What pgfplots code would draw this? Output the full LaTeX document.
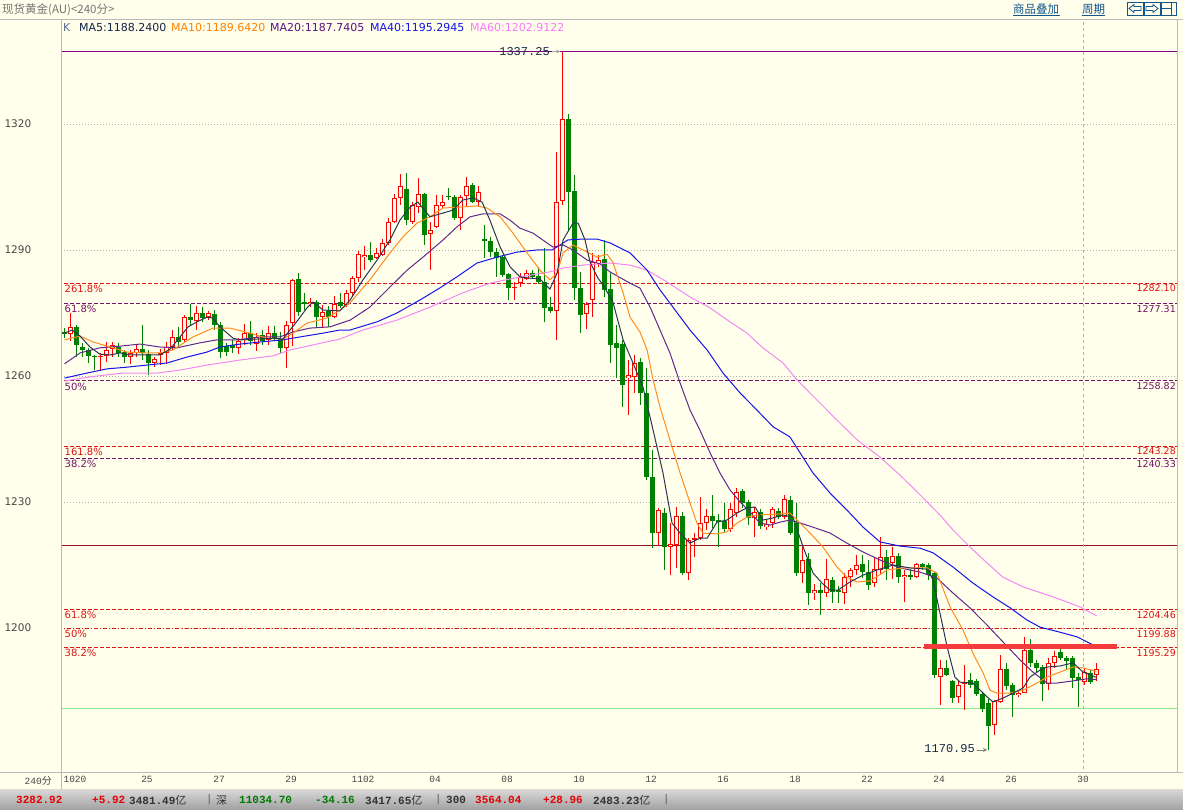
\documentclass[border=0pt]{standalone}
\usepackage{fontspec}
\setmainfont{DejaVu Sans}
\newfontfamily\cjk{Noto Sans CJK SC}
\newfontfamily\mono{Liberation Mono}
\usepackage{pgfplots}
\usepackage{pgfplotstable}
\pgfplotsset{compat=1.18}
\usetikzlibrary{arrows.meta}
\definecolor{bg}{RGB}{255,255,236}
\definecolor{cred}{RGB}{255,0,0}
\definecolor{cgreen}{RGB}{0,128,0}
\definecolor{ma5}{RGB}{40,55,85}
\definecolor{ma10}{RGB}{255,140,30}
\definecolor{ma20}{RGB}{96,40,140}
\definecolor{ma40}{RGB}{20,20,235}
\definecolor{ma60}{RGB}{245,135,245}
\definecolor{fibred}{RGB}{220,20,20}
\definecolor{fibpur}{RGB}{115,20,100}
\definecolor{toppur}{RGB}{128,0,128}
\definecolor{solidred}{RGB}{150,20,40}
\definecolor{lgreen}{RGB}{140,230,140}
\definecolor{gridc}{RGB}{175,175,175}
\definecolor{framec}{RGB}{185,185,185}
\definecolor{tickc}{RGB}{70,70,70}
\definecolor{linkc}{RGB}{20,85,140}
\definecolor{navy}{RGB}{20,40,70}
\definecolor{thickred}{RGB}{245,60,60}
\definecolor{sred}{RGB}{230,0,0}
\definecolor{sgreen}{RGB}{0,120,0}
\definecolor{sdark}{RGB}{50,50,50}

\pgfplotstableread{
x o h l c
1 1270.0 1275.0 1268.3 1271.7
6 1264.5 1265.5 1261.2 1264.8
7 1264.8 1268.1 1263.3 1266.2
8 1266.4 1268.1 1264.5 1267.4
11 1264.5 1266.2 1262.9 1265.5
12 1265.5 1267.4 1264.5 1266.4
15 1263.1 1264.5 1262.1 1264.0
16 1265.2 1266.4 1262.6 1265.5
17 1265.5 1268.1 1262.9 1266.9
18 1266.9 1271.0 1266.2 1269.3
20 1268.6 1274.5 1268.1 1274.0
22 1273.1 1276.7 1271.0 1275.0
24 1274.0 1275.5 1273.3 1275.0
29 1266.7 1269.0 1265.2 1268.3
30 1268.6 1272.4 1267.4 1270.2
32 1267.6 1270.2 1265.9 1269.3
34 1268.6 1271.9 1267.4 1270.2
37 1266.7 1273.1 1261.9 1272.1
38 1272.6 1283.1 1267.1 1282.9
41 1277.1 1278.6 1276.4 1277.6
43 1274.0 1276.9 1271.7 1275.2
45 1274.0 1279.0 1273.8 1277.1
47 1276.9 1280.5 1276.4 1279.8
48 1279.8 1283.8 1278.8 1283.3
49 1283.3 1289.8 1282.4 1289.0
50 1288.3 1290.9 1285.2 1288.8
52 1288.1 1290.5 1287.9 1289.3
53 1288.8 1292.6 1288.6 1291.7
54 1291.7 1297.6 1291.2 1296.7
55 1296.7 1303.3 1296.4 1302.4
56 1302.4 1308.1 1300.7 1305.2
58 1296.7 1301.4 1296.2 1300.7
59 1300.2 1307.1 1298.8 1303.3
61 1293.8 1296.7 1285.2 1294.8
62 1295.5 1303.1 1295.2 1300.7
63 1300.5 1303.1 1300.0 1301.4
66 1297.6 1303.1 1294.8 1302.6
67 1302.9 1307.4 1300.2 1305.2
69 1301.4 1305.2 1300.2 1303.8
75 1281.0 1282.4 1278.1 1281.2
76 1282.1 1284.5 1281.2 1283.6
77 1283.1 1285.2 1282.9 1284.5
82 1275.5 1313.3 1268.6 1301.4
83 1301.7 1337.25 1300.7 1321.2
87 1274.8 1277.6 1271.2 1277.1
88 1278.1 1289.3 1274.0 1287.1
89 1286.9 1288.8 1285.9 1287.6
94 1259.5 1263.8 1250.7 1260.2
95 1259.8 1265.0 1255.9 1263.1
99 1222.6 1228.6 1219.8 1228.1
101 1219.3 1225.0 1212.6 1220.0
102 1219.8 1228.8 1214.3 1226.7
104 1213.1 1221.4 1211.4 1221.0
105 1221.0 1222.6 1216.9 1221.4
106 1221.4 1231.2 1221.0 1225.0
107 1225.0 1228.3 1223.3 1226.7
111 1223.6 1229.8 1222.9 1228.3
112 1227.4 1233.3 1226.4 1232.4
115 1226.2 1228.8 1221.7 1227.6
117 1224.0 1225.9 1223.3 1224.8
118 1225.0 1228.8 1223.8 1228.3
120 1226.4 1231.7 1225.9 1230.7
123 1213.1 1219.8 1210.7 1216.2
125 1208.3 1210.5 1206.7 1209.0
127 1208.3 1216.4 1207.4 1211.7
130 1208.3 1213.1 1205.7 1212.1
131 1212.1 1214.3 1209.8 1213.8
132 1213.8 1217.4 1212.6 1215.0
135 1210.7 1216.7 1209.8 1214.0
136 1213.8 1221.7 1212.9 1216.9
138 1215.5 1219.3 1211.7 1217.1
140 1212.1 1213.8 1206.2 1212.6
142 1212.1 1215.5 1211.9 1215.2
146 1188.3 1192.4 1181.7 1190.5
149 1183.6 1187.6 1182.1 1186.4
150 1186.7 1191.2 1180.5 1187.1
155 1176.9 1182.9 1174.5 1182.6
156 1182.4 1193.6 1182.1 1190.2
159 1184.0 1185.2 1183.6 1184.5
160 1184.5 1197.9 1184.5 1194.8
164 1186.7 1192.9 1185.2 1191.7
165 1191.7 1194.5 1190.5 1193.3
170 1187.1 1190.5 1186.4 1189.5
172 1188.8 1191.7 1187.4 1190.2
}\tabUp

\pgfplotstableread{
x o h l c
0 1270.5 1271.4 1269.0 1270.2
2 1271.7 1272.1 1264.5 1267.4
3 1266.9 1267.9 1264.5 1266.2
4 1266.2 1266.7 1263.1 1264.8
5 1264.8 1265.0 1261.4 1264.5
9 1266.9 1267.9 1264.5 1265.5
10 1265.7 1266.2 1263.1 1264.5
13 1266.4 1272.1 1263.8 1265.5
14 1265.2 1266.2 1260.2 1263.1
19 1269.3 1271.7 1266.9 1268.1
21 1274.0 1277.1 1272.1 1273.3
23 1275.0 1276.4 1272.9 1273.8
25 1274.8 1275.7 1271.0 1272.1
26 1272.1 1272.9 1264.3 1265.7
27 1267.1 1267.9 1264.8 1265.7
28 1267.4 1268.6 1265.5 1266.7
31 1270.2 1273.1 1267.4 1268.3
33 1269.8 1271.0 1267.4 1268.3
35 1270.2 1271.9 1268.3 1269.0
36 1268.8 1270.5 1265.5 1266.7
39 1283.1 1284.5 1274.3 1275.2
40 1277.6 1279.8 1275.7 1277.1
42 1277.6 1278.1 1271.4 1274.0
44 1275.5 1276.7 1271.7 1274.0
46 1277.6 1279.8 1276.2 1276.7
51 1288.8 1291.9 1287.1 1287.6
57 1304.5 1308.3 1296.0 1297.1
60 1303.3 1303.6 1291.2 1293.6
64 1302.9 1304.8 1301.9 1302.6
65 1302.6 1303.1 1297.1 1297.6
68 1305.5 1306.0 1301.2 1301.4
70 1292.6 1296.0 1288.1 1292.1
71 1292.1 1293.1 1288.3 1289.5
72 1289.5 1290.5 1283.6 1288.1
73 1288.3 1288.8 1283.6 1284.0
74 1284.3 1284.5 1278.1 1281.0
78 1284.5 1285.2 1283.1 1283.6
79 1283.8 1285.9 1281.9 1282.4
80 1282.4 1290.5 1272.9 1276.2
81 1276.4 1278.8 1275.0 1275.5
84 1321.2 1322.4 1294.8 1303.8
85 1304.0 1307.9 1278.1 1281.0
86 1281.0 1284.8 1270.2 1274.5
90 1287.9 1292.4 1278.8 1280.5
91 1280.7 1284.5 1263.1 1267.4
92 1267.9 1272.1 1259.5 1266.7
93 1267.6 1268.6 1252.6 1257.9
96 1263.3 1264.3 1253.1 1255.9
97 1255.9 1261.9 1235.2 1235.9
98 1235.9 1242.4 1219.0 1222.6
100 1227.4 1228.6 1213.8 1219.3
103 1226.7 1227.6 1212.6 1213.1
108 1226.7 1231.7 1223.8 1225.5
109 1225.7 1227.1 1219.3 1225.5
110 1225.5 1229.8 1222.9 1223.6
113 1232.6 1233.1 1228.6 1229.8
114 1230.0 1230.5 1224.5 1226.2
116 1227.6 1228.3 1223.6 1224.3
119 1227.9 1228.6 1225.9 1226.4
121 1230.5 1231.4 1222.1 1222.6
122 1225.0 1229.8 1212.4 1213.1
124 1216.4 1217.9 1205.5 1208.3
126 1209.0 1210.7 1203.1 1208.3
128 1211.4 1212.1 1206.0 1208.6
129 1209.0 1210.0 1206.0 1208.6
133 1215.2 1217.4 1211.9 1213.3
134 1213.3 1216.2 1209.0 1210.2
137 1216.9 1218.6 1211.4 1214.0
139 1217.1 1217.9 1210.7 1212.1
141 1212.6 1214.0 1211.4 1212.1
143 1215.2 1215.5 1213.8 1214.5
144 1215.0 1215.5 1211.4 1212.6
145 1213.1 1213.3 1188.1 1188.8
147 1190.5 1192.4 1188.6 1188.8
148 1187.4 1187.6 1182.1 1183.3
151 1187.6 1189.3 1185.7 1186.4
152 1187.4 1187.9 1183.8 1184.3
153 1184.3 1184.5 1180.0 1180.7
154 1182.1 1183.1 1170.95 1176.7
157 1190.2 1191.7 1185.2 1186.2
158 1186.4 1186.9 1178.8 1184.0
161 1194.8 1197.4 1190.7 1191.7
162 1191.7 1192.4 1189.5 1190.5
163 1190.7 1191.2 1182.6 1186.7
166 1194.3 1195.2 1192.4 1192.9
167 1192.9 1193.3 1190.0 1192.1
168 1192.9 1193.3 1185.7 1188.1
169 1188.3 1189.3 1181.2 1187.6
171 1189.3 1190.0 1186.7 1187.1
}\tabDown

\begin{document}
\begin{tikzpicture}
\useasboundingbox (0pt,0pt) rectangle (1183pt,810pt);
\fill[bg] (0pt,0pt) rectangle (1183pt,810pt);
\begin{axis}[
  at={(61pt,37pt)}, anchor=south west,
  width=1116pt, height=753pt, scale only axis,
  xmin=-0.583, xmax=185.417, ymin=1165.476, ymax=1344.762,
  axis line style={draw=none},
  tick style={draw=none},
  ytick={1200,1230,1260,1290,1320},
  ymajorgrids,
  grid style={gridc, dash pattern=on 1pt off 2pt, line width=0.8pt},
  yticklabel style={anchor=west, xshift=-60pt, font=\fontsize{10.5}{12}\selectfont, text=tickc},
  xtick={1.75,13.75,25.75,37.75,49.75,61.75,73.75,85.75,97.75,109.75,121.75,133.75,145.75,157.75,169.75},
  xticklabels={1020,25,27,29,1102,04,08,10,12,16,18,22,24,26,30},
  xticklabel style={font=\mono\fontsize{9.5}{11}\selectfont, text=tickc},
  /pgf/number format/1000 sep={},
  /pgf/number format/assume math mode=true,
]
% level lines
\addplot[toppur, line width=1.1pt] coordinates {(-1,1337.25) (186,1337.25)};
\addplot[fibred, line width=1pt, dash pattern=on 4pt off 2pt] coordinates {(-1,1282.10) (186,1282.10)};
\addplot[fibpur, line width=1pt, dash pattern=on 4pt off 2pt] coordinates {(-1,1277.31) (186,1277.31)};
\addplot[fibpur, line width=1pt, dash pattern=on 4pt off 2pt] coordinates {(-1,1258.82) (186,1258.82)};
\addplot[fibred, line width=1pt, dash pattern=on 4pt off 2pt] coordinates {(-1,1243.28) (186,1243.28)};
\addplot[fibpur, line width=1pt, dash pattern=on 4pt off 2pt] coordinates {(-1,1240.33) (186,1240.33)};
\addplot[solidred, line width=1pt] coordinates {(-1,1219.7) (186,1219.7)};
\addplot[fibred, line width=1pt, dash pattern=on 4pt off 2pt] coordinates {(-1,1204.46) (186,1204.46)};
\addplot[fibred, line width=1pt, dash pattern=on 4pt off 2pt on 1pt off 2pt] coordinates {(-1,1199.88) (186,1199.88)};
\addplot[fibred, line width=1pt, dash pattern=on 4pt off 2pt] coordinates {(-1,1195.29) (186,1195.29)};
\addplot[lgreen, line width=1pt] coordinates {(-1,1180.95) (186,1180.95)};
\addplot[gridc, line width=1pt, dash pattern=on 3pt off 3pt] coordinates {(169.75,1165) (169.75,1345)};

% wicks
\addplot[draw=none, mark=none, error bars/.cd, y dir=both, y explicit, error mark=none,
  error bar style={draw=cred, line width=1pt}]
  table[x=x, y expr={(\thisrow{h}+\thisrow{l})/2}, y error expr={(\thisrow{h}-\thisrow{l})/2}] {\tabUp};
\addplot[draw=none, mark=none, error bars/.cd, y dir=both, y explicit, error mark=none,
  error bar style={draw=cgreen, line width=1pt}]
  table[x=x, y expr={(\thisrow{h}+\thisrow{l})/2}, y error expr={(\thisrow{h}-\thisrow{l})/2}] {\tabDown};
% bodies
\addplot[draw=none, mark=none, error bars/.cd, y dir=both, y explicit, error mark=none,
  error bar style={draw=cgreen, line width=5pt}]
  table[x=x, y expr={(\thisrow{o}+\thisrow{c})/2}, y error expr={max(abs(\thisrow{o}-\thisrow{c})/2,0.12)}] {\tabDown};
\addplot[draw=none, mark=none, error bars/.cd, y dir=both, y explicit, error mark=none,
  error bar style={draw=cred, line width=5pt}]
  table[x=x, y expr={(\thisrow{o}+\thisrow{c})/2}, y error expr={max(abs(\thisrow{o}-\thisrow{c})/2,0.12)}] {\tabUp};
\addplot[draw=none, mark=none, error bars/.cd, y dir=both, y explicit, error mark=none,
  error bar style={draw=bg, line width=3pt}]
  table[x=x, y expr={(\thisrow{o}+\thisrow{c})/2}, y error expr={max(abs(\thisrow{o}-\thisrow{c})/2-0.238,0)}] {\tabUp};

% moving averages
\addplot[ma60, line width=1pt] coordinates {(0,1258.8) (4.25,1259.8) (9.75,1260.7) (15.4,1260.7) (19.25,1261.4) (23.75,1262.6) (29.25,1263.8) (34.75,1264.8) (37.6,1266.2) (41.4,1267.4) (45.9,1268.8) (49.75,1270.95) (55.4,1273.3) (60.9,1276.4) (66.4,1279.8) (70.9,1282.1) (74.25,1283.1) (77.6,1284.0) (80.9,1284.8) (83.1,1285.7) (86.4,1286.4) (90.9,1286.9) (94.25,1286.4) (97.1,1285.2) (100.4,1282.4) (104.25,1278.8) (107.6,1276.2) (110.9,1272.9) (113.75,1270.2) (116.4,1266.7) (119.75,1263.1) (122.1,1259.05) (125.4,1254.3) (128.75,1249.5) (132.1,1244.8) (135.9,1240.7) (139.25,1236.4) (142.6,1231.7) (145.9,1226.9) (148.1,1223.3) (150.9,1219.3) (153.75,1215.5) (156.4,1212.1) (159.75,1209.8) (163.75,1207.9) (167.1,1206.2) (169.25,1205.0) (172,1202.91)};
\addplot[ma40, line width=1pt] coordinates {(0,1259.5) (3.75,1260.7) (7.1,1261.7) (10.4,1262.1) (13.75,1262.6) (17.1,1263.1) (20.4,1264.5) (23.75,1265.7) (25.9,1266.9) (29.25,1267.6) (32.6,1268.1) (36.4,1268.6) (39.25,1269.3) (43.1,1270.2) (45.9,1270.95) (47.6,1270.95) (52.1,1272.9) (55.4,1275.0) (59.25,1278.1) (62.6,1281.0) (65.4,1283.6) (68.75,1286.9) (72.1,1288.3) (75.4,1289.5) (78.75,1290.0) (81.25,1290.0) (82.6,1291.2) (83.9,1292.4) (86.4,1292.6) (88.75,1292.6) (90.9,1291.7) (94.25,1289.3) (97.1,1285.2) (99.25,1280.5) (101.4,1276.4) (104.25,1270.95) (107.1,1266.2) (109.75,1260.7) (112.6,1255.95) (115.4,1251.9) (118.1,1247.9) (120.9,1245.5) (122.6,1241.7) (124.75,1236.9) (127.6,1232.1) (130.4,1228.1) (133.1,1224.0) (135.9,1220.5) (139.25,1219.5) (142.6,1219.0) (144.75,1217.9) (148.1,1214.5) (151.4,1210.7) (154.75,1207.4) (157.6,1204.8) (160.4,1201.9) (162.6,1200.2) (165.9,1199.0) (168.75,1197.9) (171.4,1196.0) (172,1195.29)};
\addplot[ma20, line width=1pt] coordinates {(0,1262.9) (2.6,1265.5) (5.9,1266.7) (9.25,1267.1) (12.6,1267.6) (15.9,1266.9) (18.75,1266.7) (22.6,1267.9) (25.4,1268.6) (28.75,1268.6) (32.6,1269.3) (35.9,1269.3) (38.1,1270.5) (40.9,1271.4) (44.25,1271.7) (47.6,1273.3) (50.9,1276.4) (54.25,1281.2) (57.1,1285.2) (59.75,1288.3) (63.1,1292.4) (65.4,1295.5) (67.6,1297.9) (69.75,1298.6) (72.6,1298.6) (74.25,1297.1) (75.9,1295.2) (78.1,1294.0) (80.4,1291.7) (81.4,1290.7) (83.1,1291.2) (84.75,1290.0) (87.1,1287.6) (89.25,1286.7) (90.9,1284.8) (94.25,1282.1) (95.9,1280.95) (97.6,1276.4) (99.25,1270.95) (100.9,1265.5) (102.6,1258.3) (104.25,1251.9) (105.9,1247.1) (107.6,1241.7) (109.25,1236.9) (110.9,1232.9) (112.6,1230.0) (114.25,1227.6) (115.9,1225.0) (117.6,1224.5) (119.25,1225.2) (120.9,1225.7) (122.6,1225.0) (124.75,1224.0) (127.6,1222.6) (130.4,1220.2) (133.1,1218.1) (135.9,1216.2) (139.25,1214.3) (142.6,1213.3) (145.4,1211.9) (148.1,1208.3) (150.9,1204.8) (153.75,1200.7) (156.4,1196.7) (159.25,1192.4) (161.4,1189.5) (163.75,1186.9) (165.4,1186.9) (168.1,1187.4) (170.4,1187.9) (172,1187.74)};
\addplot[ma10, line width=1pt] coordinates {(0,1268.6) (2.6,1269.5) (4.75,1268.1) (7.6,1266.9) (10.4,1265.7) (13.1,1265.5) (15.9,1265.5) (18.1,1266.2) (21.4,1269.3) (24.75,1271.4) (27.6,1271.4) (30.9,1270.2) (33.75,1269.0) (36.4,1268.8) (38.1,1270.2) (40.4,1272.6) (43.75,1273.8) (45.9,1275.7) (47.6,1277.4) (50.9,1282.9) (54.25,1289.3) (56.4,1293.1) (58.75,1296.4) (60.9,1297.9) (63.1,1300.0) (65.9,1300.2) (68.75,1300.5) (70.4,1300.0) (72.6,1297.9) (74.75,1294.0) (77.1,1289.3) (79.25,1285.2) (80.9,1282.9) (82.1,1284.5) (83.1,1289.3) (84.75,1291.2) (86.4,1290.0) (88.75,1288.3) (90.4,1289.0) (91.4,1287.1) (93.1,1279.8) (94.25,1274.0) (95.9,1270.5) (97.1,1266.2) (98.1,1259.05) (99.25,1252.6) (100.9,1244.8) (102.6,1236.9) (104.25,1229.8) (105.4,1225.0) (106.4,1222.6) (108.75,1222.4) (110.4,1222.9) (112.1,1225.0) (113.75,1226.4) (115.4,1226.9) (118.75,1227.1) (120.9,1227.4) (122.1,1225.7) (124.25,1222.6) (126.4,1219.3) (128.75,1214.5) (130.4,1212.1) (132.1,1210.95) (134.25,1211.2) (137.1,1213.8) (139.75,1214.3) (143.75,1214.3) (145.4,1213.1) (147.6,1205.0) (149.75,1199.5) (151.4,1194.0) (153.1,1189.3) (154.25,1185.2) (155.4,1184.5) (157.6,1184.5) (159.75,1185.2) (162.1,1186.9) (163.75,1188.3) (165.9,1189.5) (168.1,1190.7) (169.75,1190.5) (172,1189.64)};
\addplot[ma5, line width=1pt] coordinates {(0,1270.2) (1.25,1270.95) (2.6,1269.5) (4.25,1266.9) (5.9,1265.2) (7.6,1265.0) (9.25,1265.5) (10.9,1265.0) (12.6,1265.0) (14.25,1265.0) (15.9,1265.0) (17.6,1266.4) (19.25,1269.3) (20.6,1271.7) (22.1,1272.9) (23.75,1274.0) (24.75,1273.8) (25.9,1271.7) (28.1,1269.0) (29.25,1268.6) (32.1,1268.8) (34.75,1269.0) (36.4,1268.8) (37.6,1270.95) (38.9,1273.3) (40.4,1276.2) (41.4,1277.6) (43.1,1275.7) (45.9,1275.5) (47.6,1278.1) (49.75,1282.9) (52.1,1287.6) (54.25,1292.4) (55.9,1297.1) (57.6,1300.2) (58.9,1301.4) (60.9,1297.9) (63.1,1298.8) (64.75,1299.5) (66.4,1301.9) (68.1,1302.4) (69.6,1301.4) (70.9,1297.1) (72.6,1290.7) (74.25,1286.0) (75.9,1283.6) (77.6,1283.3) (79.25,1283.1) (80.9,1280.7) (82.1,1284.5) (83.1,1292.4) (84.75,1296.4) (85.6,1296.4) (86.75,1292.4) (87.6,1287.1) (88.9,1283.3) (89.75,1281.7) (91.4,1277.6) (93.1,1268.6) (94.75,1263.1) (96.4,1257.4) (98.1,1247.1) (99.75,1236.9) (101.25,1225.0) (102.6,1222.6) (104.25,1220.2) (105.9,1221.4) (107.1,1221.4) (108.75,1225.2) (110.4,1225.7) (112.1,1227.4) (113.75,1228.6) (115.1,1228.8) (116.4,1225.7) (118.1,1226.2) (119.75,1226.9) (121.4,1226.4) (123.1,1219.3) (124.75,1213.1) (126.25,1210.7) (127.6,1209.0) (128.9,1209.0) (130.9,1210.95) (133.1,1212.6) (135.4,1213.8) (138.1,1215.0) (140.9,1214.3) (143.9,1214.0) (144.75,1211.4) (145.9,1203.6) (147.1,1195.5) (148.4,1188.3) (149.25,1187.1) (151.4,1186.9) (153.75,1183.6) (154.75,1182.4) (156.4,1183.3) (158.1,1184.5) (159.75,1185.7) (160.9,1188.3) (162.6,1190.0) (163.75,1190.7) (165.9,1190.95) (168.1,1191.7) (169.75,1189.5) (172,1188.24)};

% thick resistance bar
\addplot[thickred, line width=5pt] coordinates {(143.25,1195.6) (175.4,1195.6)};

% level labels (left)
\begin{scope}[every node/.style={inner sep=0pt, font=\fontsize{10}{12}\selectfont}]
\node[anchor=north west, text=fibred] at (axis cs:0,1282.10) [yshift=-1.5pt] {261.8\%};
\node[anchor=north west, text=fibpur] at (axis cs:0,1277.31) [yshift=-1.5pt] {61.8\%};
\node[anchor=north west, text=fibpur] at (axis cs:0,1258.82) [yshift=-1.5pt] {50\%};
\node[anchor=north west, text=fibred] at (axis cs:0,1243.28) [yshift=-1.5pt] {161.8\%};
\node[anchor=north west, text=fibpur] at (axis cs:0,1240.33) [yshift=-1.5pt] {38.2\%};
\node[anchor=north west, text=fibred] at (axis cs:0,1204.46) [yshift=-1.5pt] {61.8\%};
\node[anchor=north west, text=fibred] at (axis cs:0,1199.88) [yshift=-1.5pt] {50\%};
\node[anchor=north west, text=fibred] at (axis cs:0,1195.29) [yshift=-1.5pt] {38.2\%};
\end{scope}
\begin{scope}[every node/.style={inner sep=0pt, font=\fontsize{9.5}{11}\selectfont}]
\node[anchor=north east, text=fibred] at (axis cs:185.417,1282.10) [xshift=-1pt, yshift=-1.5pt] {1282.10};
\node[anchor=north east, text=fibpur] at (axis cs:185.417,1277.31) [xshift=-1pt, yshift=-1.5pt] {1277.31};
\node[anchor=north east, text=fibpur] at (axis cs:185.417,1258.82) [xshift=-1pt, yshift=-1.5pt] {1258.82};
\node[anchor=north east, text=fibred] at (axis cs:185.417,1243.28) [xshift=-1pt, yshift=-1.5pt] {1243.28};
\node[anchor=north east, text=fibpur] at (axis cs:185.417,1240.33) [xshift=-1pt, yshift=-1.5pt] {1240.33};
\node[anchor=north east, text=fibred] at (axis cs:185.417,1204.46) [xshift=-1pt, yshift=-1.5pt] {1204.46};
\node[anchor=north east, text=fibred] at (axis cs:185.417,1199.88) [xshift=-1pt, yshift=-1.5pt] {1199.88};
\node[anchor=north east, text=fibred] at (axis cs:185.417,1195.29) [xshift=-1pt, yshift=-1.5pt] {1195.29};
\end{scope}
% extreme labels
\node[anchor=east, inner sep=0pt, text=navy, font=\mono\fontsize{12}{14}\selectfont] at (axis cs:80.9,1337.25) {1337.25};
\draw[-{Stealth[length=4pt,width=4pt]}, gray!70, line width=0.6pt] (axis cs:81.3,1337.25) -- (axis cs:82.6,1337.25);
\node[anchor=east, inner sep=0pt, text=navy, font=\mono\fontsize{12}{14}\selectfont] at (axis cs:151.75,1171.3) {1170.95};
\draw[-{Stealth[length=4pt,width=4pt]}, gray, line width=0.8pt] (axis cs:152.1,1170.95) -- (axis cs:153.75,1170.95);
\end{axis}

% frame
\draw[framec, line width=1pt] (0pt,790.5pt) -- (1183pt,790.5pt);
\draw[framec, line width=1pt] (0pt,37pt) -- (1183pt,37pt);
\draw[framec, line width=1pt] (61pt,20pt) -- (61pt,790.5pt);
\draw[framec, line width=1pt] (1177.5pt,37pt) -- (1177.5pt,790.5pt);

% header
\node[anchor=west, inner sep=0pt, text=gray!90!black, font=\cjk\fontsize{11.5}{13}\selectfont] at (2pt,800pt) {现货黄金(AU)<240分>};
\node[anchor=west, inner sep=0pt, text=linkc, font=\cjk\fontsize{11.5}{13}\selectfont] at (1013pt,801pt) {商品叠加};
\draw[linkc, line width=0.8pt] (1013pt,794.5pt) -- (1060pt,794.5pt);
\node[anchor=west, inner sep=0pt, text=linkc, font=\cjk\fontsize{11.5}{13}\selectfont] at (1082pt,801pt) {周期};
\draw[linkc, line width=0.8pt] (1082pt,794.5pt) -- (1105pt,794.5pt);
\draw[linkc, line width=0.9pt] (1127pt,795pt) rectangle (1143pt,808pt);
\draw[linkc, line width=0.9pt] (1144pt,795pt) rectangle (1160pt,808pt);
\draw[linkc, line width=0.9pt] (1161pt,795pt) rectangle (1176pt,808pt);
\draw[linkc, line width=0.8pt] (1129pt,801.5pt) -- (1134pt,805.5pt) -- (1134pt,803.5pt) -- (1141pt,803.5pt) -- (1141pt,799.5pt) -- (1134pt,799.5pt) -- (1134pt,797.5pt) -- cycle;
\draw[linkc, line width=0.8pt] (1158pt,801.5pt) -- (1153pt,805.5pt) -- (1153pt,803.5pt) -- (1146pt,803.5pt) -- (1146pt,799.5pt) -- (1153pt,799.5pt) -- (1153pt,797.5pt) -- cycle;
\draw[linkc, line width=0.8pt] (1171pt,795pt) -- (1171pt,808pt) (1161pt,801.5pt) -- (1171pt,801.5pt);

% MA legend row
\begin{scope}[every node/.style={anchor=west, inner sep=0pt, font=\fontsize{11}{13}\selectfont}]
\node[text={rgb,255:red,90;green,110;blue,140}] at (63pt,782pt) {K};
\node[text={rgb,255:red,20;green,35;blue,70}] at (79pt,782pt) {MA5:1188.2400};
\node[text={rgb,255:red,255;green,128;blue,0}] at (171pt,782pt) {MA10:1189.6420};
\node[text={rgb,255:red,90;green,20;blue,130}] at (270pt,782pt) {MA20:1187.7405};
\node[text={rgb,255:red,20;green,20;blue,230}] at (370pt,782pt) {MA40:1195.2945};
\node[text={rgb,255:red,250;green,120;blue,250}] at (470pt,782pt) {MA60:1202.9122};
\end{scope}

% bottom-left period label
\node[anchor=east, inner sep=0pt, text=tickc] at (52pt,29pt) {{\mono\fontsize{9.5}{11}\selectfont 240}{\cjk\fontsize{10}{11}\selectfont 分}};

% status bar
\shade[top color={rgb,255:red,215;green,215;blue,215}, bottom color={rgb,255:red,160;green,160;blue,160}] (0pt,0pt) rectangle (1183pt,20pt);
\begin{scope}[every node/.style={anchor=west, inner sep=0pt, font=\mono\bfseries\fontsize{11}{13}\selectfont}]
\node[text=sred] at (16pt,10pt) {3282.92};
\node[text=sred] at (92pt,10pt) {+5.92};
\node[text=sdark] at (129pt,10pt) {3481.49{\cjk\mdseries 亿}};
\node[text=gray] at (206pt,10pt) {|};
\node[text=sdark] at (216pt,10pt) {{\cjk\mdseries 深}};
\node[text=sgreen] at (239pt,10pt) {11034.70};
\node[text=sgreen] at (315pt,10pt) {-34.16};
\node[text=sdark] at (365pt,10pt) {3417.65{\cjk\mdseries 亿}};
\node[text=gray] at (435pt,10pt) {|};
\node[text=sdark] at (446pt,10pt) {300};
\node[text=sred] at (475pt,10pt) {3564.04};
\node[text=sred] at (543pt,10pt) {+28.96};
\node[text=sdark] at (593pt,10pt) {2483.23{\cjk\mdseries 亿}};
\node[text=gray] at (663pt,10pt) {|};
\end{scope}
\end{tikzpicture}
\end{document}
